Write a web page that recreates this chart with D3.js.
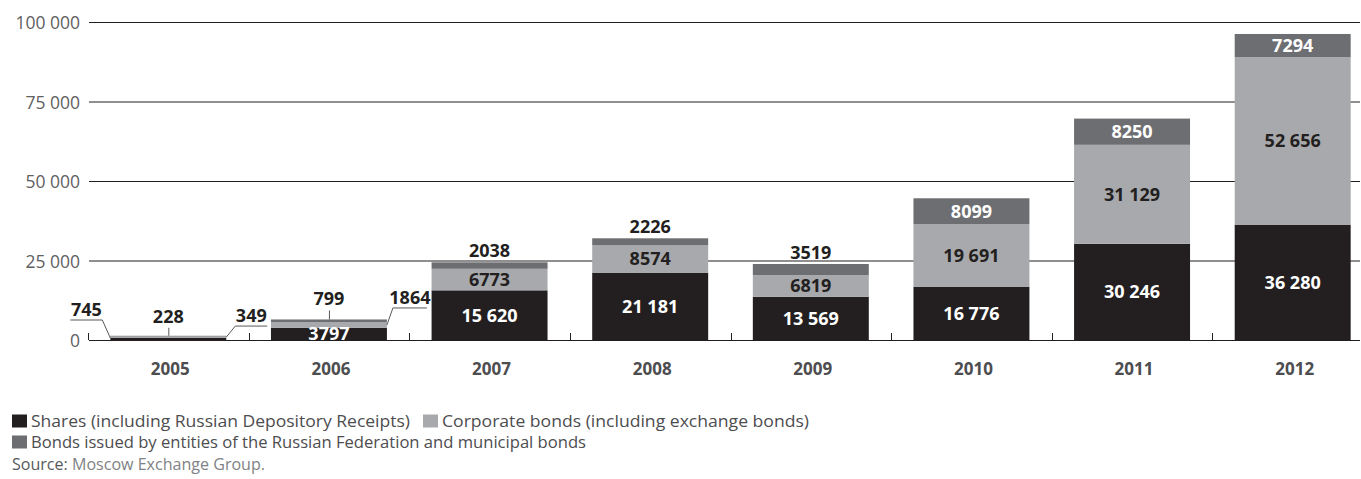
<!DOCTYPE html>
<html>
<head>
<meta charset="utf-8">
<script src="https://cdn.jsdelivr.net/npm/d3@7/dist/d3.min.js"></script>
<style>
  html, body { margin: 0; padding: 0; background: #fff; }
  svg { display: block; font-family: "Open Sans", "Noto Sans", sans-serif; }
</style>
</head>
<body>
<svg id="chart" width="1361" height="479"></svg>
<script>
// Trading volumes on the exchange, by instrument type
const years = ["2005", "2006", "2007", "2008", "2009", "2010", "2011", "2012"];
const shares = [745, 3797, 15620, 21181, 13569, 16776, 30246, 36280];
const corporate = [349, 1864, 6773, 8574, 6819, 19691, 31129, 52656];
const municipal = [228, 799, 2038, 2226, 3519, 8099, 8250, 7294];
const yTicks = [0, 25000, 50000, 75000, 100000];

const seriesKeys = ["shares", "corporate", "municipal"];
const seriesNames = [
  "Shares (including Russian Depository Receipts)",
  "Corporate bonds (including exchange bonds)",
  "Bonds issued by entities of the Russian Federation and municipal bonds"
];
const colors = { shares: "#231f20", corporate: "#a7a9ac", municipal: "#6d6e71" };
const labelColors = { shares: "#ffffff", corporate: "#231f20", municipal: "#ffffff" };

const rows = years.map((y, i) => ({
  year: y, shares: shares[i], corporate: corporate[i], municipal: municipal[i]
}));

const svg = d3.select("#chart");

const x = d3.scaleBand().domain(years).range([88, 1373]).paddingInner(0.278).paddingOuter(0.139);
const y = d3.scaleLinear().domain([0, 100000]).range([340, 22]);
const lineEnd = 1360;

// numbers of five digits and more get a space as thousands separator
const groupFmt = d3.formatLocale({ decimal: ",", thousands: " ", grouping: [3], currency: ["", ""] }).format(",d");
const fmt = v => (Math.abs(v) >= 10000 ? groupFmt(v) : String(v));

// horizontal grid lines with value labels
const grid = svg.append("g");
grid.selectAll("line").data(yTicks).join("line")
  .attr("x1", 89).attr("x2", lineEnd)
  .attr("y1", d => y(d) + 0.5).attr("y2", d => y(d) + 0.5)
  .attr("stroke", "#231f20").attr("stroke-width", 1.1);
grid.selectAll("text").data(yTicks).join("text")
  .attr("x", 80).attr("y", d => y(d) + 1).attr("dy", "0.36em")
  .attr("text-anchor", "end")
  .attr("font-size", 17.5).attr("fill", "#5f6062")
  .text(d => fmt(d));

// small ticks on the baseline between the categories
const bounds = years.map(yr => x(yr) - x.step() * x.paddingOuter());
svg.append("g").selectAll("line").data(bounds).join("line")
  .attr("x1", d => Math.round(d) + 0.5).attr("x2", d => Math.round(d) + 0.5)
  .attr("y1", y(0) - 7).attr("y2", y(0))
  .attr("stroke", "#231f20").attr("stroke-width", 1);

// stacked bars
const stacked = d3.stack().keys(seriesKeys)(rows);
const bars = svg.append("g");
stacked.forEach(layer => {
  bars.append("g").attr("fill", colors[layer.key])
    .selectAll("rect").data(layer).join("rect")
    .attr("x", d => x(d.data.year))
    .attr("width", x.bandwidth())
    .attr("y", d => y(d[1]))
    .attr("height", d => y(d[0]) - y(d[1]));
});

// year labels
svg.append("g").selectAll("text").data(years).join("text")
  .attr("x", d => x(d) + x.bandwidth() / 2 + 2)
  .attr("y", 375)
  .attr("text-anchor", "middle")
  .attr("font-size", 17).attr("font-weight", 700).attr("fill", "#4d4d4f")
  .text(d => d);

// value labels
const labels = svg.append("g").attr("font-size", 18).attr("font-weight", 700).attr("text-anchor", "middle");
const smallBar = r => y(0) - y(r.shares + r.corporate + r.municipal) < 30;

stacked.forEach(layer => {
  layer.forEach(d => {
    const r = d.data;
    const cx = x(r.year) + x.bandwidth() / 2;
    const top = y(d[1]), bottom = y(d[0]);
    const h = bottom - top;
    if (smallBar(r) && layer.key !== "shares") return;
    if (smallBar(r) && r.shares < 1000) return;
    if (layer.key === "municipal" && h < 18) {
      // thin top segment: value sits above the bar
      labels.append("text").attr("x", cx).attr("y", top - 5)
        .attr("fill", "#231f20").text(fmt(r[layer.key]));
    } else {
      labels.append("text").attr("x", cx).attr("y", (top + bottom) / 2).attr("dy", "0.36em")
        .attr("fill", labelColors[layer.key]).text(fmt(r[layer.key]));
    }
  });
});

// callouts for the short bars
const callouts = [
  { year: "2005", key: "shares", side: "left", rise: 18, run: 8, len: 32 },
  { year: "2005", key: "municipal", side: "top", rise: 8 },
  { year: "2005", key: "corporate", side: "right", rise: 11, run: 9, len: 32 },
  { year: "2006", key: "municipal", side: "top", rise: 9 },
  { year: "2006", key: "corporate", side: "right", rise: 17, run: 6, len: 34 }
];
const leaders = svg.append("g").attr("fill", "none").attr("stroke", "#58595b").attr("stroke-width", 1);
callouts.forEach(c => {
  const layer = stacked.find(l => l.key === c.key);
  const d = layer.find(e => e.data.year === c.year);
  const value = d.data[c.key];
  const x0 = x(c.year), x1 = x0 + x.bandwidth();
  const top = y(d[1]), bottom = y(d[0]);
  if (c.side === "top") {
    const cx = x0 + x.bandwidth() / 2;
    leaders.append("line").attr("x1", cx + 0.5).attr("x2", cx + 0.5)
      .attr("y1", top - c.rise).attr("y2", top);
    labels.append("text").attr("x", cx).attr("y", top - c.rise - 5)
      .attr("fill", "#231f20").text(fmt(value));
  } else {
    const ay = Math.min((top + bottom) / 2, y(0) - 2);
    const ax = c.side === "left" ? x0 : x1;
    const dir = c.side === "left" ? -1 : 1;
    const ux = ax + dir * c.run;
    const uy = ay - c.rise;
    const uxEnd = ux + dir * c.len;
    leaders.append("path")
      .attr("d", `M${ax},${ay}L${ux},${uy}L${uxEnd},${uy}`);
    labels.append("text").attr("x", (ux + uxEnd) / 2).attr("y", uy - 4)
      .attr("fill", "#231f20").text(fmt(value));
  }
});

// legend
const legend = svg.append("g").attr("font-size", 16).attr("fill", "#4d4d4f");
const legendItems = [
  { key: "shares", x: 12, y: 427, w: 379 },
  { key: "corporate", x: 423, y: 427, w: 367 },
  { key: "municipal", x: 12, y: 448, w: 555 }
];
legendItems.forEach(it => {
  legend.append("rect").attr("x", it.x).attr("y", it.y - 12.5).attr("width", 15).attr("height", 13)
    .attr("fill", colors[it.key]);
  legend.append("text").attr("x", it.x + 19).attr("y", it.y)
    .attr("textLength", it.w).attr("lengthAdjust", "spacingAndGlyphs")
    .text(seriesNames[seriesKeys.indexOf(it.key)]);
});

const source = svg.append("text").attr("x", 12).attr("y", 470).attr("font-size", 16)
  .attr("textLength", 253).attr("lengthAdjust", "spacingAndGlyphs");
source.append("tspan").attr("fill", "#58595b").text("Source:");
source.append("tspan").attr("fill", "#808285").text(" Moscow Exchange Group.");
</script>
</body>
</html>
